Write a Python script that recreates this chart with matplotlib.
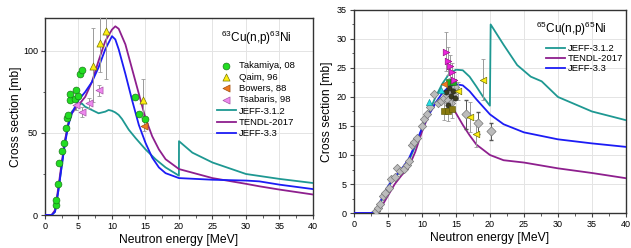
import matplotlib
matplotlib.use("Agg")
import matplotlib.pyplot as plt
from matplotlib.ticker import MultipleLocator
import numpy as np

plt.rcParams['font.family'] = ['Liberation Sans', 'DejaVu Sans']
plt.rcParams['mathtext.fontset'] = 'custom'
plt.rcParams['mathtext.rm'] = 'Liberation Sans'

C_TEAL = '#1e9892'
C_PURP = '#8e1f8e'
C_BLUE = '#1c1cf5'

#+------------------ 63Cu(n,p)63Ni ------------------+#

e63 = [0, 1.0, 1.5, 2.0, 2.5, 3.0, 3.5, 4.0, 5.0, 5.5, 6.0, 7.0, 8.0, 8.5, 9.0, 9.5, 10.0, 10.5,
       11.0, 11.5, 12.5, 13.5, 15.0, 16.5, 18.0, 19.99, 20.0, 22.0, 25.0, 30.0, 35.0, 40.0]
jeff312_63 = [0, 0, 2, 15, 30, 45, 56, 63, 67, 68, 66, 64, 62, 62.5, 63, 64, 63.5, 62.5,
              61, 58.5, 52, 47, 40, 34, 29, 24, 45, 38, 32, 25, 22, 19.5]
e63b = [0, 1.0, 1.5, 2.0, 2.5, 3.0, 3.5, 4.0, 5.0, 6.0, 7.0, 8.0, 9.0, 10.0, 10.5, 11.0, 12.0,
        13.0, 14.0, 15.0, 16.0, 17.0, 18.0, 20.0, 25.0, 30.0, 32.0, 35.0, 40.0]
tendl_63 = [0, 0, 3, 17, 32, 46, 56, 62, 67, 72, 81, 94, 106, 113, 115, 113.5, 104,
            89, 74, 59, 48, 40, 34, 28, 22.5, 19, 17.5, 15.5, 12.5]
jeff33_63 = [0, 0, 2, 15, 30, 44, 55, 62, 70, 75, 81, 90, 101, 109, 107, 101, 86,
             70, 55, 44, 35, 29, 25.5, 22.5, 21.5, 21, 20.5, 18.5, 15.8]

tak_x = [1.6, 1.7, 1.9, 2.1, 2.5, 2.9, 3.1, 3.3, 3.5, 3.8, 3.8, 4.5, 4.6, 5.0, 5.3, 5.5, 13.4, 14.1, 14.9]
tak_y = [6, 9, 19, 31.5, 39, 44, 53, 59, 61, 70, 74, 70.5, 76, 72.5, 86, 88.5, 72, 61.5, 58.5]
qaim_x = [7.2, 8.2, 9.1, 14.6]
qaim_y = [91, 105, 112, 70]
qaim_lo = [22, 18, 29, 11]
qaim_hi = [23, 20, 15, 13]
bow_x = [14.8]
bow_y = [54]
bow_e = [3]
tsa_x = [4.6, 5.5, 6.5, 8.0]
tsa_y = [67, 63, 68.5, 76]
tsa_e = [3, 3, 3, 3.5]

#+------------------ 65Cu(n,p)65Ni ------------------+#

e65 = [0, 2.5, 3.0, 3.5, 4.0, 5.0, 6.0, 7.0, 8.0, 9.0, 10.0, 11.0, 12.0, 13.0, 14.0, 15.0, 16.0,
       17.0, 18.0, 19.0, 19.99, 20.1, 22.0, 24.0, 26.0, 27.6, 30.0, 35.0, 40.0]
jeff312_65 = [0, 0, 0.2, 0.8, 2.0, 4.5, 6.3, 7.2, 8.8, 11.5, 14.5, 17.3, 20.0, 22.3, 24.0, 24.7, 24.6,
              23.5, 21.8, 20.0, 18.5, 32.5, 29.0, 25.5, 23.5, 22.7, 20.0, 17.5, 16.0]
e65b = [0, 2.5, 3.0, 3.5, 4.0, 5.0, 6.0, 7.0, 8.0, 9.0, 10.0, 11.0, 12.0, 13.0, 14.0, 15.0, 16.0,
        17.0, 18.0, 20.0, 22.0, 25.0, 30.0, 35.0, 40.0]
tendl_65 = [0, 0, 0.1, 0.3, 1.0, 3.0, 5.0, 6.5, 7.8, 10.5, 14.0, 17.0, 19.0, 19.7, 19.0, 17.2, 15.2,
            13.4, 11.8, 10.0, 9.1, 8.7, 7.7, 6.9, 6.0]
jeff33_65 = [0, 0, 0.2, 1.0, 2.3, 4.6, 6.2, 7.6, 9.2, 11.8, 14.6, 16.9, 19.0, 20.7, 21.8, 22.2, 22.0,
             21.0, 19.6, 17.0, 15.3, 13.9, 12.7, 12.0, 11.4]

gray_x = [3.3, 3.5, 3.8, 4.3, 4.6, 5.1, 5.5, 6.0, 6.3, 6.8, 7.3, 7.8, 8.1, 8.5, 8.8, 9.3, 10.0,
          10.3, 10.7, 11.2, 11.8, 12.3, 12.8, 13.2, 13.6, 13.8, 14.1, 14.3, 14.5, 14.8]
gray_y = [0.4, 0.8, 1.6, 3.0, 3.5, 4.3, 5.8, 6.2, 7.7, 7.2, 7.6, 8.3, 9.0, 11.8, 12.2, 13.0, 15.0,
          16.2, 17.0, 18.3, 20.5, 19.0, 19.3, 19.8, 20.5, 19.5, 21.0, 19.0, 20.5, 21.8]
grayerr_x = [16.5, 18.2, 20.2]
grayerr_y = [17.0, 15.5, 14.1]
grayerr_e = [2.5, 1.9, 1.5]
yel_x = [15.3, 17.0, 17.9, 19.0]
yel_y = [21.0, 16.5, 13.7, 23.0]
yel_e = [1.5, 2.6, 2.4, 3.5]
mag_x = [13.6, 13.9, 14.1, 14.4, 14.7]
mag_y = [27.8, 26.2, 25.3, 24.3, 22.9]
mag_e = [3.4, 2.4, 2.0, 1.6, 1.4]
oli_x = [13.3, 13.8, 14.4]
oli_y = [17.5, 17.5, 17.9]
oli_e = [1.5, 1.6, 1.5]
cya_x = [11.0, 12.8]
cya_y = [19.2, 21.2]
grn_x = [14.0, 14.5]
grn_y = [22.5, 22.6]
org_x = [13.3]
org_y = [22.2]
blk_x = [13.5, 14.0, 14.3, 14.6, 14.9, 13.9]
blk_y = [20.8, 21.5, 20.2, 21.0, 19.8, 18.6]

#+------------------------------------------------------+#

fig = plt.figure(figsize=(6.31, 2.48), dpi=100)
ax1 = fig.add_axes([0.0713, 0.133, 0.4247, 0.794])
ax2 = fig.add_axes([0.561, 0.141, 0.431, 0.819])

def habiller(ax, ymax, ymaj, ymin, pad):
    ax.set_xlim(0, 40)
    ax.set_ylim(0, ymax)
    ax.xaxis.set_major_locator(MultipleLocator(5))
    ax.xaxis.set_minor_locator(MultipleLocator(2.5))
    ax.yaxis.set_major_locator(MultipleLocator(ymaj))
    ax.yaxis.set_minor_locator(MultipleLocator(ymin))
    ax.grid(which='major', color='#e4e4e4', linewidth=0.7)
    ax.set_axisbelow(True)
    ax.tick_params(which='major', length=3, width=0.8, labelsize=6.5, pad=2, color='#444444')
    ax.tick_params(which='minor', length=1.8, width=0.6, color='#444444')
    for s in ax.spines.values():
        s.set_color('#333333')
        s.set_linewidth(1.0)
    ax.set_xlabel('Neutron energy [MeV]', fontsize=8.7, labelpad=2)
    ax.set_ylabel('Cross section [mb]', fontsize=8.7, labelpad=pad)

eb = dict(ecolor='#9a9a9a', elinewidth=0.7, capsize=1.5, capthick=0.6, linestyle='none')

# --- gauche
habiller(ax1, 120, 50, 25, 1)
h_tak = ax1.scatter(tak_x, tak_y, s=24, color='#22dd22', edgecolors='#1a7a1a', linewidths=0.5, zorder=5)
ax1.errorbar(qaim_x, qaim_y, yerr=[qaim_lo, qaim_hi], **eb, zorder=4)
h_qai = ax1.scatter(qaim_x, qaim_y, s=26, marker='^', color='#ffee11', edgecolors='#777700', linewidths=0.5, zorder=5)
ax1.errorbar(bow_x, bow_y, yerr=bow_e, **eb, zorder=4)
h_bow = ax1.scatter(bow_x, bow_y, s=26, marker='<', color='#f07820', edgecolors='#a05010', linewidths=0.5, zorder=5)
ax1.errorbar(tsa_x, tsa_y, yerr=tsa_e, **eb, zorder=4)
h_tsa = ax1.scatter(tsa_x, tsa_y, s=26, marker='<', color='#ee88ee', edgecolors='#aa55aa', linewidths=0.5, zorder=5)
h_j1, = ax1.plot(e63, jeff312_63, color=C_TEAL, lw=1.3, zorder=3)
h_tn, = ax1.plot(e63b, tendl_63, color=C_PURP, lw=1.3, zorder=3)
h_j3, = ax1.plot(e63b, jeff33_63, color=C_BLUE, lw=1.3, zorder=3)
ax1.text(0.79, 0.90, r'$^{63}$Cu(n,p)$^{63}$Ni', transform=ax1.transAxes, fontsize=8.5, ha='center', va='center')
ax1.legend([h_tak, h_qai, h_bow, h_tsa, h_j1, h_tn, h_j3],
           ['Takamiya, 08', 'Qaim, 96', 'Bowers, 88', 'Tsabaris, 98', 'JEFF-3.1.2', 'TENDL-2017', 'JEFF-3.3'],
           loc='upper left', bbox_to_anchor=(0.62, 0.81), frameon=False, fontsize=6.8,
           handlelength=2.0, handletextpad=0.3, labelspacing=0.25, borderpad=0.1)

# --- droite
habiller(ax2, 35, 5, 2.5, 3)
ax2.scatter(gray_x, gray_y, s=18, marker='D', color='#bcbcbc', edgecolors='#777777', linewidths=0.5, zorder=4)
ax2.errorbar(grayerr_x, grayerr_y, yerr=grayerr_e, ecolor='#555555', elinewidth=0.7, capsize=1.5, linestyle='none', zorder=4)
ax2.scatter(grayerr_x, grayerr_y, s=22, marker='D', color='#bcbcbc', edgecolors='#777777', linewidths=0.5, zorder=5)
ax2.scatter(blk_x, blk_y, s=14, marker='o', color='#3a3a20', edgecolors='#222222', linewidths=0.4, zorder=5)
ax2.errorbar(oli_x, oli_y, yerr=oli_e, **eb, zorder=4)
ax2.scatter(oli_x, oli_y, s=18, marker='s', color='#8a7a10', edgecolors='#555500', linewidths=0.4, zorder=5)
ax2.scatter(cya_x, cya_y, s=20, marker='^', color='#22e0e8', edgecolors='#118888', linewidths=0.4, zorder=5)
ax2.scatter(grn_x, grn_y, s=18, marker='s', color='#22aa22', edgecolors='#116611', linewidths=0.4, zorder=5)
ax2.scatter(org_x, org_y, s=20, marker='<', color='#f07820', edgecolors='#a05010', linewidths=0.4, zorder=5)
ax2.errorbar(yel_x, yel_y, yerr=yel_e, **eb, zorder=4)
ax2.scatter(yel_x, yel_y, s=22, marker='<', color='#ffee11', edgecolors='#777700', linewidths=0.5, zorder=5)
ax2.errorbar(mag_x, mag_y, yerr=mag_e, **eb, zorder=4)
ax2.scatter(mag_x, mag_y, s=22, marker='>', color='#ee22dd', edgecolors='#991188', linewidths=0.5, zorder=6)
g_j1, = ax2.plot(e65, jeff312_65, color=C_TEAL, lw=1.3, zorder=3)
g_tn, = ax2.plot(e65b, tendl_65, color=C_PURP, lw=1.3, zorder=3)
g_j3, = ax2.plot(e65b, jeff33_65, color=C_BLUE, lw=1.3, zorder=3)
ax2.text(0.80, 0.905, r'$^{65}$Cu(n,p)$^{65}$Ni', transform=ax2.transAxes, fontsize=8.5, ha='center', va='center')
ax2.legend([g_j1, g_tn, g_j3], ['JEFF-3.1.2', 'TENDL-2017', 'JEFF-3.3'],
           loc='upper left', bbox_to_anchor=(0.685, 0.86), frameon=False, fontsize=6.8,
           handlelength=2.0, handletextpad=0.3, labelspacing=0.1, borderpad=0.1)

plt.savefig('out.png', dpi=100)
